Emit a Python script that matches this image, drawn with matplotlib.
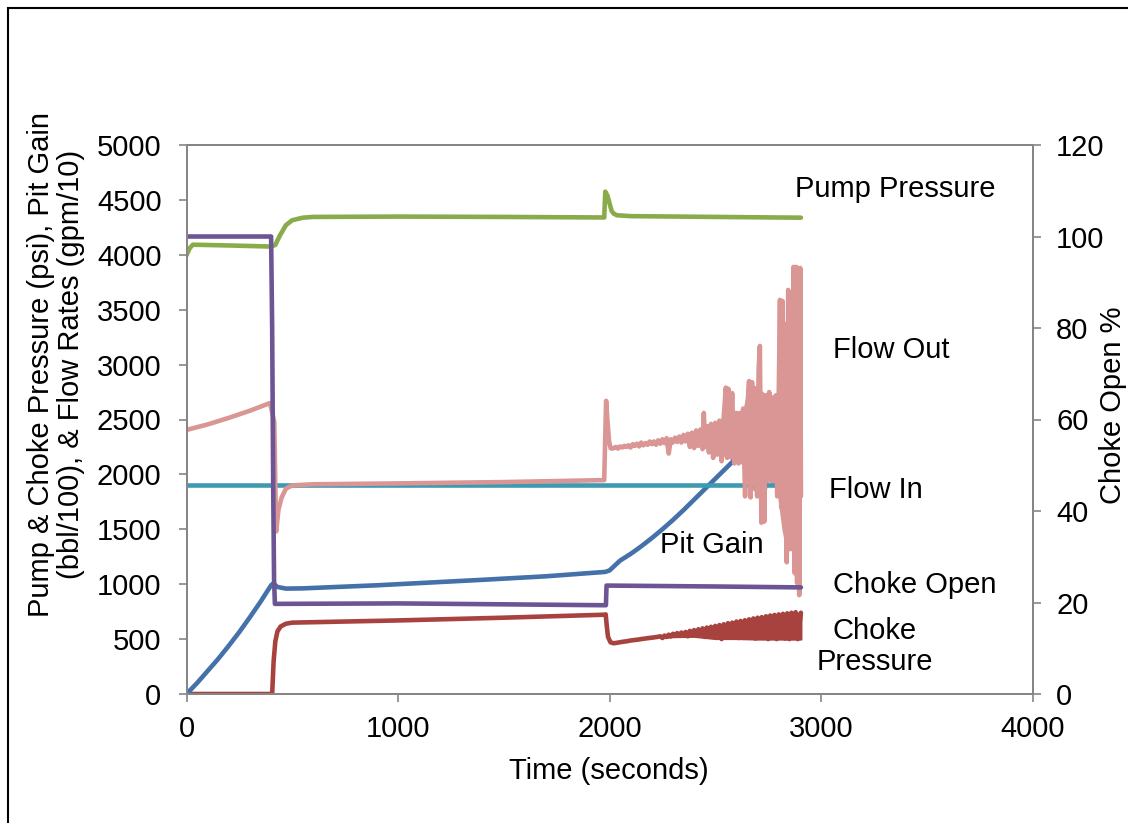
import matplotlib
matplotlib.use("Agg")
import matplotlib.pyplot as plt
from matplotlib.patches import Rectangle

plt.rcParams['font.family'] = ['Liberation Sans', 'DejaVu Sans']

# ---------------- data ----------------
pump_t = [0, 15, 30, 200, 400, 420, 440, 470, 500, 550, 600, 1000, 1500, 1975,
          1980, 1990, 2000, 2010, 2020, 2035, 2100, 2500, 2905]
pump_v = [3995, 4060, 4092, 4085, 4075, 4090, 4170, 4270, 4315, 4338, 4345, 4348,
          4345, 4340, 4575, 4540, 4470, 4400, 4375, 4360, 4352, 4345, 4338]

flowin_t = [0, 2905]
flowin_v = [1900, 1900]

pit_t = [0, 50, 100, 150, 200, 250, 300, 350, 400, 410, 430, 470, 550, 900, 1400,
         1700, 1980, 2000, 2050, 2100, 2150, 2200, 2250, 2300, 2350, 2400, 2450,
         2500, 2550, 2600, 2650, 2700, 2760]
pit_v = [0, 100, 210, 320, 440, 565, 700, 840, 990, 1007, 975, 960, 962, 990, 1040,
         1072, 1112, 1125, 1215, 1276, 1345, 1420, 1500, 1585, 1675, 1770, 1865,
         1960, 2055, 2150, 2240, 2320, 2400]

chokeopen_t = [0, 400, 405, 410, 414, 418, 1000, 1500, 1983, 1986, 2500, 2905]
chokeopen_v = [100, 100, 80, 45, 25, 19.7, 19.8, 19.6, 19.4, 23.7, 23.5, 23.3]

flowout_t = [0, 100, 200, 300, 395, 415, 420, 424, 435, 450, 470, 500, 600, 1000,
             1500, 1975, 1984, 1990, 1998, 2005,
             2010, 2020, 2030, 2040, 2050, 2060, 2070, 2080, 2090, 2100,
             2110, 2120, 2130, 2140, 2150, 2160, 2170, 2180, 2190, 2200,
             2210, 2220, 2230, 2240, 2250, 2260, 2270, 2280, 2290, 2300,
             2310, 2320, 2330, 2340, 2350, 2360, 2370, 2380, 2390, 2400,
             2410, 2420, 2430, 2440, 2446, 2452, 2460, 2470, 2480, 2490,
             2500, 2510, 2520, 2530, 2540, 2550, 2556, 2562, 2570, 2580,
             2590, 2600, 2610, 2617, 2625, 2632, 2641, 2650, 2660, 2667,
             2674, 2682, 2690, 2698, 2705, 2711, 2718, 2725, 2732, 2740,
             2748, 2755, 2762, 2770, 2778, 2786, 2793, 2800, 2806, 2812,
             2818, 2825, 2832, 2838, 2845, 2852, 2858, 2864, 2870, 2876,
             2882, 2887, 2892, 2897, 2902, 2905]
flowout_v = [2405, 2455, 2515, 2580, 2650, 2480, 1900, 1480, 1680, 1790, 1870, 1900, 1910, 1918,
             1930, 1948, 2670, 2500, 2300, 2240,
             2235, 2240, 2250, 2235, 2255, 2245, 2260, 2250, 2265, 2245,
             2275, 2260, 2280, 2255, 2290, 2265, 2285, 2270, 2300, 2275,
             2300, 2270, 2310, 2280, 2320, 2285, 2330, 2190, 2320, 2290,
             2335, 2295, 2345, 2290, 2360, 2300, 2370, 2250, 2380, 2240,
             2400, 2260, 2410, 2230, 2560, 2250, 2440, 2200, 2460, 2150,
             2470, 2180, 2490, 2120, 2520, 2790, 2150, 2780, 2200, 2740,
             2100, 2560, 2100, 2560, 2150, 2600, 1800, 2560, 2850, 1790,
             2840, 1900, 2600, 1800, 2950, 3170, 1560, 2700, 1570, 2720,
             1950, 2750, 1950, 2700, 2100, 2720, 1800, 2700, 3590, 1700,
             3580, 1900, 3370, 1200, 3680, 1320, 3500, 1320, 3890, 1100,
             3890, 1010, 3880, 900, 3880, 1800]

# solid core of the oscillating flow-out band
flowout_band_t = [2420, 2450, 2480, 2510, 2540, 2570, 2600, 2630, 2660, 2690, 2720,
                  2750, 2780, 2800, 2820, 2840, 2860, 2880, 2902]
flowout_band_lo = [2280, 2260, 2230, 2200, 2180, 2150, 2120, 2100, 1900, 1850, 1750,
                   1950, 1900, 1800, 1500, 1300, 1350, 1150, 1100]
flowout_band_hi = [2380, 2400, 2430, 2450, 2480, 2600, 2540, 2540, 2800, 2800, 2750,
                   2700, 2700, 2700, 3400, 3350, 3500, 3850, 3850]

chokep_t = [0, 405, 412, 420, 430, 445, 470, 500, 1000, 1500, 1975, 1982, 1987, 1993, 2005,
            2020, 2040, 2060, 2080, 2100, 2120, 2140, 2160, 2180, 2200,
            2220, 2240, 2250, 2260, 2270, 2280, 2290, 2300, 2310, 2320,
            2330, 2340, 2350, 2360, 2370, 2380, 2390, 2400, 2410, 2420,
            2430, 2440, 2450, 2460, 2470, 2480, 2490, 2500, 2510, 2520,
            2530, 2540, 2550, 2560, 2570, 2580, 2590, 2600, 2610, 2620,
            2630, 2640, 2650, 2660, 2670, 2680, 2690, 2700, 2710, 2720,
            2730, 2740, 2750, 2760, 2770, 2780, 2790, 2800, 2810, 2820,
            2830, 2840, 2850, 2860, 2870, 2880, 2890, 2905]
chokep_v = [0, 0, 300, 480, 570, 615, 640, 650, 670, 695, 722, 725, 620, 520, 470,
            462, 468, 475, 480, 487, 492, 497, 503, 508, 513,
            518, 525, 510, 532, 520, 540, 525, 548, 530, 555,
            532, 560, 535, 565, 525, 575, 540, 582, 530, 590,
            540, 598, 520, 605, 545, 612, 530, 620, 550, 628,
            500, 635, 540, 645, 520, 650, 545, 660, 510, 665,
            545, 672, 520, 680, 535, 688, 505, 695, 530, 700,
            520, 708, 500, 715, 525, 720, 500, 725, 520, 730,
            505, 735, 500, 740, 510, 745, 500, 740]

# solid core of the oscillating choke-pressure band
chokep_band_t = [2250, 2300, 2400, 2500, 2600, 2700, 2800, 2905]
chokep_band_lo = [512, 522, 525, 505, 505, 500, 500, 500]
chokep_band_hi = [530, 548, 582, 620, 660, 695, 725, 740]

x_ticks = [0, 1000, 2000, 3000, 4000]
y_ticks = [0, 500, 1000, 1500, 2000, 2500, 3000, 3500, 4000, 4500, 5000]
y2_ticks = [0, 20, 40, 60, 80, 100, 120]

# ---------------- figure ----------------
W, H = 1128, 823
fig = plt.figure(figsize=(W / 100, H / 100), dpi=100)
ax = fig.add_axes([186.5 / W, 1 - 694 / H, 846 / W, 549 / H])
ax2 = ax.twinx()

c_pump, c_chokep, c_pit = '#8aab4a', '#a8423f', '#4471a9'
c_in, c_out, c_open = '#3e9ab2', '#d99694', '#6d5494'

lw = 3.3
kw = dict(lw=lw, solid_capstyle='round', solid_joinstyle='round')
ax.plot(pump_t, pump_v, color=c_pump, **kw)
ax.plot(chokep_t, chokep_v, color=c_chokep, **kw)
ax.fill_between(chokep_band_t, chokep_band_lo, chokep_band_hi, color=c_chokep, lw=1.5)
ax.plot(pit_t, pit_v, color=c_pit, **kw)
ax.plot(flowin_t, flowin_v, color=c_in, lw=lw, solid_capstyle='butt')
ax.plot(flowout_t, flowout_v, color=c_out, **kw)
ax.fill_between(flowout_band_t, flowout_band_lo, flowout_band_hi, color=c_out, lw=1.5)
ax2.plot(chokeopen_t, chokeopen_v, color=c_open, **kw)

ax.set_xlim(0, 4000)
ax.set_ylim(0, 5000)
ax2.set_ylim(0, 120)
ax.set_xticks(x_ticks)
ax.set_yticks(y_ticks)
ax2.set_yticks(y2_ticks)

fs = 21
grey = '#868686'
for a in (ax, ax2):
    for s in a.spines.values():
        s.set_color(grey)
        s.set_linewidth(1.4)
ax.tick_params(axis='y', direction='out', length=6, width=1.2, color=grey, labelsize=fs, pad=12)
ax.tick_params(axis='x', direction='out', length=6, width=1.2, color=grey, labelsize=fs, pad=9)
ax2.tick_params(axis='y', direction='out', length=6, width=1.2, color=grey, labelsize=fs, pad=11)

ax.set_xlabel('Time (seconds)', fontsize=fs, va='center', ha='center')
ax.xaxis.set_label_coords(0.4994, -0.140)
ax.set_ylabel('Pump & Choke Pressure (psi), Pit Gain\n(bbl/100), & Flow Rates (gpm/10)',
              fontsize=fs, va='center', ha='center', linespacing=1.1)
ax.yaxis.set_label_coords(-0.1543, 0.601)
ax2.set_ylabel('Choke Open %', fontsize=fs, va='center', ha='center', rotation=90)
ax2.yaxis.set_label_coords(1.095, 0.526)

ax.text(2877, 4600, 'Pump Pressure', fontsize=fs, ha='left', va='center')
ax.text(3057, 3135, 'Flow Out', fontsize=fs, ha='left', va='center')
ax.text(3038, 1860, 'Flow In', fontsize=fs, ha='left', va='center')
ax.text(2239, 1360, 'Pit Gain', fontsize=fs, ha='left', va='center')
ax.text(3057, 995, 'Choke Open', fontsize=fs, ha='left', va='center')
ax.text(3255, 430, 'Choke\nPressure', fontsize=fs, ha='center', va='center',
        multialignment='center', linespacing=1.12)

# outer chart border
fig.add_artist(Rectangle((8 / W, -0.1), 1.2, 1 - 8 / H + 0.1, transform=fig.transFigure,
                         fill=False, edgecolor='black', lw=1.5))

fig.savefig('out.png', dpi=100)
